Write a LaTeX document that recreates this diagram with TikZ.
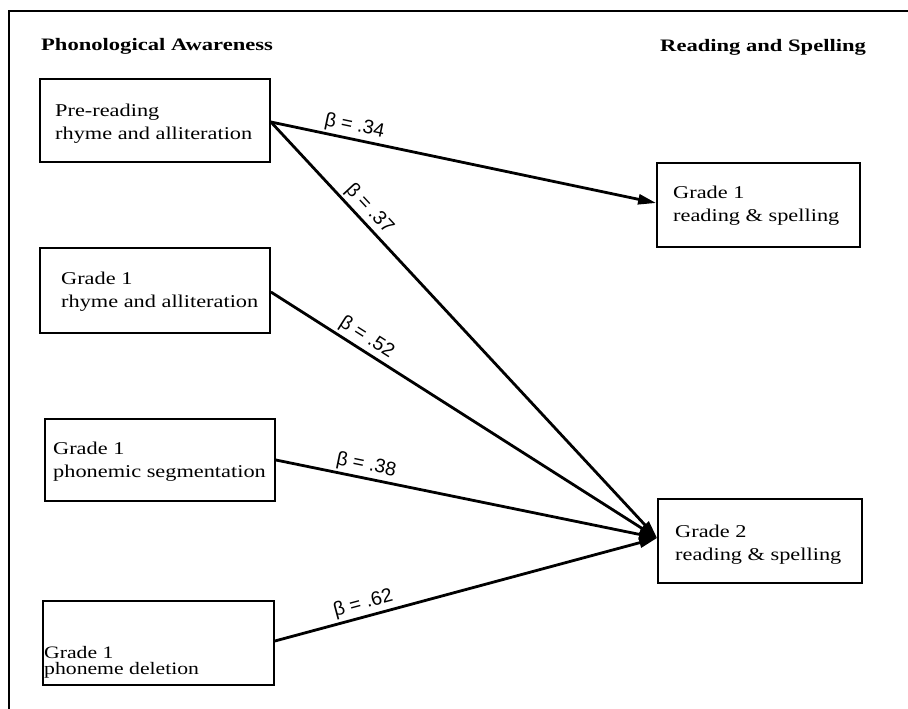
\documentclass[tikz,border=0pt]{standalone}
\usepackage{fontspec}
\setmainfont{Liberation Serif}
\newfontfamily\boxfont[FakeStretch=1.24]{Liberation Serif}
\newfontfamily\headfont[FakeStretch=1.29]{Liberation Serif Bold}
\newfontfamily\lblfont{Liberation Sans}
\usetikzlibrary{arrows.meta,calc}
\tikzset{
  box/.style={draw, line width=1.8pt, minimum width=#1, minimum height=84pt, inner sep=0pt},
  boxtext/.style={anchor=west, align=left, inner sep=0pt, font=\boxfont\fontsize{18}{23}\selectfont},
  head/.style={anchor=base west, inner sep=0pt, font=\headfont\fontsize{17.5}{20}\selectfont},
  conn/.style={line width=2.8pt, -{Triangle[length=18pt,width=10pt]}},
  lbl/.style={font=\lblfont\fontsize{19.5}{22}\selectfont, inner sep=2.5pt},
  frame/.style={line width=1.8pt}
}
\begin{document}
\begin{tikzpicture}[x=1pt,y=1pt]
\useasboundingbox (0,0) rectangle (908,-709);
% frame
\coordinate (fa) at (9,-709);
\coordinate (fb) at (9,-11);
\coordinate (fc) at (908,-11);
\draw[frame] (fa) -- (fb) -- (fc);
% headers
\node[head] (hpa) at (41,-51) {Phonological Awareness};
\node[head] (hrs) at (660,-52) {Reading and Spelling};
% boxes
\node[box=230pt, minimum height=83pt] (b1) at (155,-120.5) {};
\node[box=230pt, minimum height=85pt] (b2) at (155,-290.5) {};
\node[box=230pt, minimum height=82pt] (b3) at (160,-460) {};
\node[box=231pt, minimum height=84pt] (b4) at (158.5,-643) {};
\node[box=203pt, minimum height=84pt] (g1) at (758.5,-205) {};
\node[box=204pt, minimum height=84pt] (g2) at (760,-541) {};
% box texts
\node[boxtext] (t1) at (55,-123.5) {Pre-reading\\rhyme and alliteration};
\node[boxtext] (t2) at (61,-291.5) {Grade 1\\rhyme and alliteration};
\node[boxtext] (t3) at (53,-462) {Grade 1\\phonemic segmentation};
\node[boxtext, font=\boxfont\fontsize{17.5}{16}\selectfont] (t4) at (44,-662) {Grade 1\\phoneme deletion};
\node[boxtext] (t5) at (673,-206) {Grade 1\\reading \& spelling};
\node[boxtext] (t6) at (675,-545) {Grade 2\\reading \& spelling};
% connectors
\coordinate (g2in) at ([yshift=3pt]g2.west);
\draw[conn] ([yshift=-1.5pt]b1.east) -- node[lbl, pos=0.21, sloped, above] (l1) {β = .34} ([yshift=2pt]g1.west);
\draw[conn] ([yshift=-1.5pt]b1.east) -- node[lbl, pos=0.23, sloped, above] (l2) {β = .37} (g2in);
\draw[conn] ([yshift=-1.5pt]b2.east) -- node[lbl, pos=0.23, sloped, above] (l3) {β = .52} (g2in);
\draw[conn] (b3.east) -- node[lbl, pos=0.23, sloped, above] (l4) {β = .38} (g2in);
\draw[conn] ([yshift=2pt]b4.east) -- node[lbl, pos=0.24, sloped, above] (l5) {β = .62} (g2in);
\end{tikzpicture}
\end{document}
